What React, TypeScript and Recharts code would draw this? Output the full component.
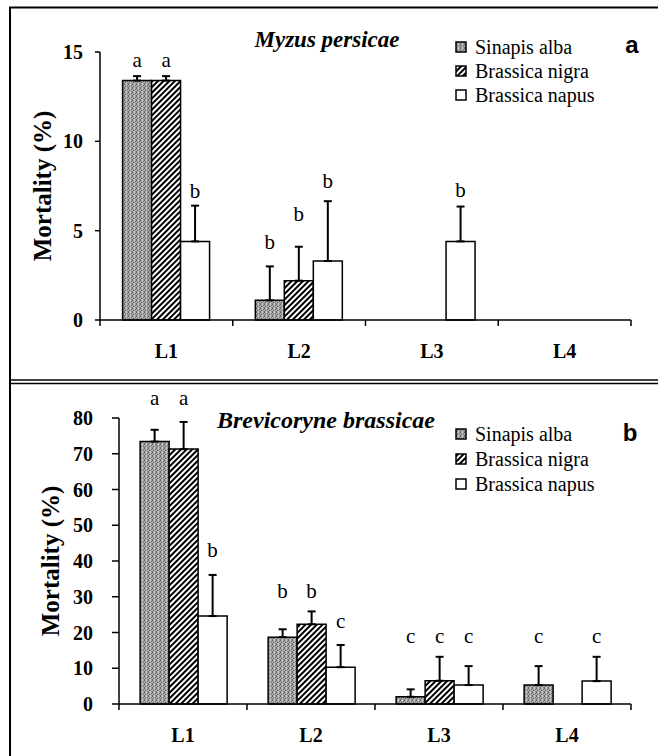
import React from "react";
import { BarChart, Bar, XAxis, YAxis, ErrorBar, LabelList } from "recharts";

const SERIF = "'Liberation Serif', 'DejaVu Serif', serif";
const SANS = "'Liberation Sans', Arial, sans-serif";

const categories = ["L1", "L2", "L3", "L4"];
const species = ["Sinapis alba", "Brassica nigra", "Brassica napus"];

// panel a - Myzus persicae
const sinapisA = [13.4, 1.1, 0, 0];
const nigraA = [13.4, 2.2, 0, 0];
const napusA = [4.4, 3.3, 4.4, 0];
const sinapisAErr = [0.25, 1.9, 0, 0];
const nigraAErr = [0.25, 1.9, 0, 0];
const napusAErr = [2.0, 3.35, 1.95, 0];
const sinapisALetters = ["a", "b", "", ""];
const nigraALetters = ["a", "b", "", ""];
const napusALetters = ["b", "b", "b", ""];
// level (mortality %) where each letter sits
const sinapisALetterAt = [14.15, 4.0, 0, 0];
const nigraALetterAt = [14.15, 5.55, 0, 0];
const napusALetterAt = [6.85, 7.4, 6.9, 0];

// panel b - Brevicoryne brassicae
const sinapisB = [73.4, 18.7, 2.0, 5.3];
const nigraB = [71.3, 22.3, 6.5, 0];
const napusB = [24.6, 10.3, 5.3, 6.4];
const sinapisBErr = [3.3, 2.2, 2.1, 5.3];
const nigraBErr = [7.6, 3.6, 6.7, 0];
const napusBErr = [11.5, 6.2, 5.3, 6.8];
const sinapisBLetters = ["a", "b", "c", "c"];
const nigraBLetters = ["a", "b", "c", ""];
const napusBLetters = ["b", "c", "c", "c"];
const sinapisBLetterAt = [83.5, 29.7, 17.1, 17.1];
const nigraBLetterAt = [83.5, 29.7, 17.1, 0];
const napusBLetterAt = [41.2, 21.3, 17.1, 17.1];

const ticksA = [0, 5, 10, 15];
const ticksB = [0, 10, 20, 30, 40, 50, 60, 70, 80];

const keys = ["s", "n", "p"];

function buildRows(vals: number[][], errs: number[][], letters: string[][], at: number[][]) {
  return categories.map((cat, i) => {
    const row: any = { cat };
    keys.forEach((k, j) => {
      row[k] = vals[j][i];
      row[k + "Err"] = [0, errs[j][i]];
      row[k + "At"] = at[j][i];
      row[k + "Letter"] = letters[j][i];
    });
    return row;
  });
}

const rowsA = buildRows(
  [sinapisA, nigraA, napusA],
  [sinapisAErr, nigraAErr, napusAErr],
  [sinapisALetters, nigraALetters, napusALetters],
  [sinapisALetterAt, nigraALetterAt, napusALetterAt]
);
const rowsB = buildRows(
  [sinapisB, nigraB, napusB],
  [sinapisBErr, nigraBErr, napusBErr],
  [sinapisBLetters, nigraBLetters, napusBLetters],
  [sinapisBLetterAt, nigraBLetterAt, napusBLetterAt]
);

// speckled grey like the scanned halftone
function Patterns({ id }: { id: string }) {
  return (
    <defs>
      <pattern id={"stip-" + id} width="4" height="4" patternUnits="userSpaceOnUse">
        <rect width="4" height="4" fill="#a8a8a8" />
        <rect x="0" y="0" width="1" height="1" fill="#5a5a5a" />
        <rect x="2" y="0" width="1" height="1" fill="#c8c8c8" />
        <rect x="3" y="1" width="1" height="1" fill="#6e6e6e" />
        <rect x="1" y="2" width="1" height="1" fill="#646464" />
        <rect x="2" y="3" width="1" height="1" fill="#cfcfcf" />
        <rect x="0" y="3" width="1" height="1" fill="#767676" />
        <rect x="3" y="3" width="1" height="1" fill="#8a8a8a" />
      </pattern>
      <pattern id={"hatch-" + id} width="4" height="4" patternUnits="userSpaceOnUse" patternTransform="rotate(45)">
        <rect width="4" height="4" fill="#fff" />
        <rect x="0" y="0" width="2" height="4" fill="#000" />
      </pattern>
    </defs>
  );
}

// letter above a bar: its level is scaled with the bar's own px-per-unit
function letterContent(rows: any[], k: string) {
  return (props: any) => {
    const vb = props.viewBox || {};
    const x = Number(props.x ?? vb.x);
    const y = Number(props.y ?? vb.y);
    const w = Number(props.width ?? vb.width);
    const h = Number(props.height ?? vb.height);
    const row = rows[props.index];
    if (!row || !row[k + "Letter"] || !row[k]) return null;
    const top = h >= 0 ? y : y + h;
    const perUnit = Math.abs(h) / row[k];
    const ly = top - (row[k + "At"] - row[k]) * perUnit;
    return (
      <text x={x + w / 2} y={ly} textAnchor="middle" style={{ fontFamily: SERIF }} fontSize={21} fill="#000">
        {row[k + "Letter"]}
      </text>
    );
  };
}

function CatTick(props: any) {
  const { x, y, payload, index, width, visibleTicksCount } = props;
  const half =
    typeof payload?.offset === "number" && payload.offset > 4
      ? payload.offset
      : width && visibleTicksCount
      ? width / visibleTicksCount / 2
      : 66;
  return (
    <g>
      {index === 0 && <line x1={x - half} x2={x - half} y1={y} y2={y + 6} stroke="#000" strokeWidth={1.5} />}
      <line x1={x + half} x2={x + half} y1={y} y2={y + 6} stroke="#000" strokeWidth={1.5} />
      <text
        x={x}
        y={y + 38}
        textAnchor="middle"
        style={{ fontFamily: SERIF }}
        fontWeight="bold"
        fontSize={20}
        fill="#000"
      >
        {payload.value}
      </text>
    </g>
  );
}

function yLabel(cx: number) {
  return (props: any) => {
    const vb = props.viewBox;
    const cy = vb.y + vb.height / 2;
    return (
      <text
        x={cx}
        y={cy}
        transform={`rotate(-90 ${cx} ${cy})`}
        textAnchor="middle"
        dominantBaseline="central"
        style={{ fontFamily: SERIF }}
        fontWeight="bold"
        fontSize={25}
        fill="#000"
      >
        Mortality (%)
      </text>
    );
  };
}

function Panel(props: {
  id: string;
  rows: any[];
  height: number;
  top: number;
  axisWidth: number;
  xHeight: number;
  max: number;
  ticks: number[];
  tickSize: number;
  tickMargin: number;
  labelX: number;
  gap: string;
}) {
  const { id, rows } = props;
  const fills = ["url(#stip-" + id + ")", "url(#hatch-" + id + ")", "#fff"];
  return (
    <BarChart
      width={658}
      height={props.height}
      data={rows}
      margin={{ top: props.top, right: 27, left: 0, bottom: 0 }}
      barCategoryGap={props.gap}
      barGap={0}
      style={{ fontFamily: SERIF }}
    >
      <Patterns id={id} />
      <XAxis
        dataKey="cat"
        height={props.xHeight}
        axisLine={{ stroke: "#000", strokeWidth: 1.5 }}
        tickLine={false}
        tickSize={0}
        tickMargin={0}
        tick={<CatTick />}
        interval={0}
      />
      <YAxis
        width={props.axisWidth}
        domain={[0, props.max]}
        ticks={props.ticks}
        axisLine={{ stroke: "#000", strokeWidth: 1.5 }}
        tickLine={{ stroke: "#000", strokeWidth: 1.5 }}
        tickSize={props.tickSize}
        tickMargin={props.tickMargin}
        tick={{ style: { fontFamily: SERIF }, fontWeight: "bold", fontSize: 20, fill: "#000" }}
        label={{ content: yLabel(props.labelX) }}
      />
      {keys.map((k, j) => (
        <Bar key={k} dataKey={k} fill={fills[j]} stroke="#000" strokeWidth={1.5} isAnimationActive={false}>
          <ErrorBar dataKey={k + "Err"} width={4} stroke="#000" strokeWidth={2} direction="y" />
          <LabelList dataKey={k + "Letter"} content={letterContent(rows, k)} />
        </Bar>
      ))}
    </BarChart>
  );
}

function LegendBlock({ x, y, step, id }: { x: number; y: number; step: number; id: string }) {
  const fills = ["url(#stip-" + id + ")", "url(#hatch-" + id + ")", "#fff"];
  return (
    <g>
      {species.map((name, i) => (
        <g key={name}>
          <rect x={x} y={y + i * step - 12} width={10} height={10} fill={fills[i]} stroke="#000" strokeWidth={1.5} />
          <text x={x + 19} y={y + i * step} style={{ fontFamily: SERIF }} fontSize={20} fill="#000">
            {name}
          </text>
        </g>
      ))}
    </g>
  );
}

export default function App() {
  return (
    <div
      style={{
        position: "absolute",
        left: 0,
        top: 0,
        width: 658,
        height: 756,
        background: "#fff",
        fontFamily: SERIF,
      }}
    >
      <div style={{ position: "absolute", left: 0, top: 0 }}>
        <Panel
          id="a"
          rows={rowsA}
          height={380}
          top={52}
          axisWidth={100}
          xHeight={60}
          max={15}
          ticks={ticksA}
          tickSize={5}
          tickMargin={12}
          labelX={42}
          gap="17%"
        />
      </div>
      <div style={{ position: "absolute", left: 0, top: 380 }}>
        <Panel
          id="b"
          rows={rowsB}
          height={376}
          top={38}
          axisWidth={119}
          xHeight={52}
          max={80}
          ticks={ticksB}
          tickSize={7}
          tickMargin={19}
          labelX={50}
          gap="16.5%"
        />
      </div>
      <svg width={658} height={756} style={{ position: "absolute", left: 0, top: 0, pointerEvents: "none" }}>
        <Patterns id="leg" />
        <line x1={9} y1={7.5} x2={658} y2={7.5} stroke="#000" strokeWidth={2} />
        <line x1={10} y1={7} x2={10} y2={756} stroke="#000" strokeWidth={2} />
        <line x1={9} y1={380} x2={658} y2={380} stroke="#000" strokeWidth={1.5} />
        <line x1={9} y1={383.5} x2={658} y2={383.5} stroke="#000" strokeWidth={1.5} />
        <text
          x={327}
          y={47}
          textAnchor="middle"
          style={{ fontFamily: SERIF }}
          fontStyle="italic"
          fontWeight="bold"
          fontSize={23}
        >
          Myzus persicae
        </text>
        <text
          x={326}
          y={428}
          textAnchor="middle"
          style={{ fontFamily: SERIF }}
          fontStyle="italic"
          fontWeight="bold"
          fontSize={24}
        >
          Brevicoryne brassicae
        </text>
        <LegendBlock x={456} y={54} step={24} id="leg" />
        <LegendBlock x={456} y={441} step={25} id="leg" />
        <text x={632} y={53} textAnchor="middle" style={{ fontFamily: SANS }} fontWeight="bold" fontSize={24}>
          a
        </text>
        <text x={630} y={441} textAnchor="middle" style={{ fontFamily: SANS }} fontWeight="bold" fontSize={24}>
          b
        </text>
      </svg>
    </div>
  );
}
